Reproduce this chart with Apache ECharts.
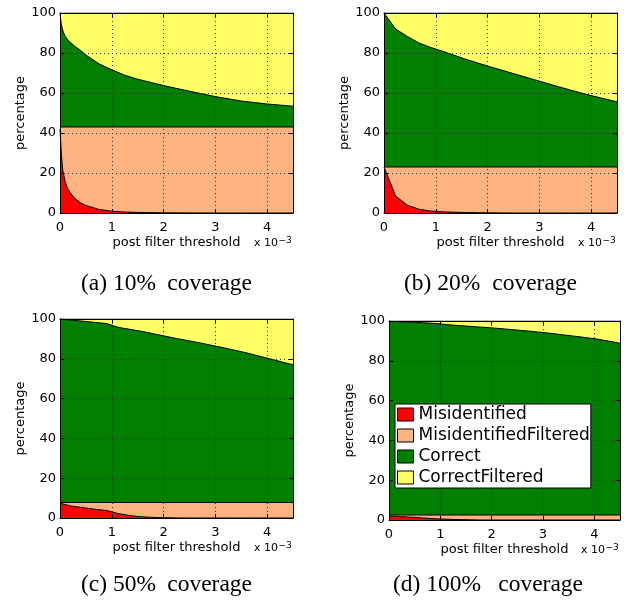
<!DOCTYPE html>
<html><head><meta charset="utf-8">
<script src="https://cdn.jsdelivr.net/npm/echarts@6/dist/echarts.min.js"></script>
<style>html,body{margin:0;padding:0;background:#fff}#c{width:629px;height:604px}</style>
</head><body><div id="c"></div>
<script>
// ---- data (x in units of 1e-3) ----
const seriesNames = ['Misidentified', 'MisidentifiedFiltered', 'Correct', 'CorrectFiltered'];
const xTickLabels = ['0', '1', '2', '3', '4'];
const yTickLabels = ['0', '20', '40', '60', '80', '100'];
const captionLabels = ['(a) 10%', '(b) 20%', '(c) 50%', '(d) 100%'];

const xA = [0, 0.025, 0.05, 0.1, 0.15, 0.2, 0.3, 0.4, 0.5, 0.75, 1.0, 1.25, 1.5, 2.0, 2.5, 3.0, 3.5, 4.0, 4.5];
const misA      = [42, 30, 22, 15.5, 12, 10, 7, 5, 3.8, 1.8, 0.9, 0.5, 0.3, 0.1, 0.05, 0, 0, 0, 0];
const misFiltA  = [1, 13, 21, 27.5, 31, 33, 36, 38, 39.2, 41.2, 42.1, 42.5, 42.7, 42.9, 42.95, 43, 43, 43, 43];
const correctA  = [57, 51.3, 48.5, 45.3, 43.6, 42.2, 40.1, 38.2, 36.0, 31.6, 28.6, 25.9, 23.9, 20.7, 17.9, 15.2, 13.0, 11.5, 10.4];
const corrFiltA = [0, 5.7, 8.5, 11.7, 13.4, 14.8, 16.9, 18.8, 21.0, 25.4, 28.4, 31.1, 33.1, 36.3, 39.1, 41.8, 44.0, 45.5, 46.6];

const xB = [0, 0.225, 0.45, 0.675, 0.9, 1.125, 1.35, 1.575, 1.8, 2.025, 2.25, 2.475, 2.7, 2.925, 3.15, 3.375, 3.6, 3.825, 4.05, 4.275, 4.5];

const misB      = [23, 8.5, 3.9, 1.9, 1.0, 0.6, 0.4, 0.25, 0.15, 0.1, 0.05, 0, 0, 0, 0, 0, 0, 0, 0, 0, 0];
const misFiltB  = [0, 14.5, 19.1, 21.1, 22.0, 22.4, 22.6, 22.75, 22.85, 22.9, 22.95, 23, 23, 23, 23, 23, 23, 23, 23, 23, 23];
const correctB  = [77, 69.0, 65.3, 62.0, 59.8, 57.9, 55.9, 53.9, 52.1, 50.3, 48.6, 46.9, 45.2, 43.5, 41.8, 40.1, 38.5, 36.9, 35.4, 34.0, 32.6];
const corrFiltB = [0, 8.0, 11.7, 15.0, 17.2, 19.1, 21.1, 23.1, 24.9, 26.7, 28.4, 30.1, 31.8, 33.5, 35.2, 36.9, 38.5, 40.1, 41.6, 43.0, 44.4];

const misC      = [7.4, 6.0, 5.2, 4.4, 3.8, 2.2, 1.2, 0.6, 0.3, 0.15, 0.05, 0, 0, 0, 0, 0, 0, 0, 0, 0, 0];
const misFiltC  = [0.4, 1.8, 2.6, 3.4, 4.0, 5.6, 6.6, 7.2, 7.5, 7.65, 7.75, 7.8, 7.8, 7.8, 7.8, 7.8, 7.8, 7.8, 7.8, 7.8, 7.8];
const correctC  = [92.2, 91.6, 91.1, 90.5, 89.9, 88.0, 87.0, 86.0, 84.8, 83.6, 82.4, 81.3, 80.2, 79.0, 77.8, 76.5, 75.2, 73.7, 72.2, 70.7, 69.2];
const corrFiltC = [0, 0.6, 1.1, 1.7, 2.3, 4.2, 5.2, 6.2, 7.4, 8.6, 9.8, 10.9, 12.0, 13.2, 14.4, 15.7, 17.0, 18.5, 20.0, 21.5, 23.0];

const misD      = [2.0, 1.7, 1.4, 1.0, 0.6, 0.4, 0.2, 0.1, 0, 0, 0, 0, 0, 0, 0, 0, 0, 0, 0, 0, 0];
const misFiltD  = [0.5, 0.8, 1.1, 1.5, 1.9, 2.1, 2.3, 2.4, 2.5, 2.5, 2.5, 2.5, 2.5, 2.5, 2.5, 2.5, 2.5, 2.5, 2.5, 2.5, 2.5];
const correctD  = [97.3, 97.1, 96.9, 96.6, 96.3, 95.7, 95.2, 94.8, 94.4, 94.0, 93.5, 93.0, 92.5, 91.9, 91.3, 90.6, 89.9, 89.2, 88.4, 87.4, 86.3];
const corrFiltD = [0.2, 0.4, 0.6, 0.9, 1.2, 1.8, 2.3, 2.7, 3.1, 3.5, 4.0, 4.5, 5.0, 5.6, 6.2, 6.9, 7.6, 8.3, 9.1, 10.1, 11.2];

// ---- styling / layout ----
const seriesColors = ['#ff0000', '#ffb380', '#007f00', '#ffff66'];
const SANS = 'DejaVu Sans';
const SERIF = 'Liberation Serif';

const panels = [
  { xs: xA, vals: [misA, misFiltA, correctA, corrFiltA], left: 60,  top: 13,  width: 233, height: 200, capL: 81,  capR: 252, capY: 284 },
  { xs: xB, vals: [misB, misFiltB, correctB, corrFiltB], left: 384, top: 13,  width: 233, height: 200, capL: 404, capR: 577, capY: 284 },
  { xs: xB, vals: [misC, misFiltC, correctC, corrFiltC], left: 60,  top: 319, width: 233, height: 199, capL: 81,  capR: 252, capY: 585 },
  { xs: xB, vals: [misD, misFiltD, correctD, corrFiltD], left: 389, top: 321, width: 231, height: 199, capL: 393, capR: 583, capY: 585 }
];

const grids = [], xAxes = [], yAxes = [], series = [], graphics = [];
const axisLineStyle = { color: '#000', width: 1 };
const gridLineStyle = { color: '#333', width: 1, type: [1, 3] };

panels.forEach((p, i) => {
  grids.push({ left: p.left, top: p.top, width: p.width, height: p.height });
  xAxes.push({
    gridIndex: i, type: 'value', min: 0, max: 4.5, interval: 1, position: 'bottom', z: 10,
    axisLine: { show: true, onZero: false, lineStyle: axisLineStyle },
    axisTick: { show: true, inside: true, length: 4, lineStyle: axisLineStyle },
    axisLabel: { show: true, margin: 8, color: '#000', fontFamily: SANS, fontSize: 13, showMaxLabel: false,
      formatter: v => (Number.isInteger(v) && xTickLabels[v] !== undefined) ? xTickLabels[v] : '' },
    splitLine: { show: true, lineStyle: gridLineStyle },
    name: 'post filter threshold', nameLocation: 'middle', nameGap: 23.5,
    nameTextStyle: { color: '#000', fontFamily: SANS, fontSize: 13 }
  });
  xAxes.push({
    gridIndex: i, type: 'value', min: 0, max: 4.5, interval: 1, position: 'top', z: 10,
    axisLine: { show: true, onZero: false, lineStyle: axisLineStyle },
    axisTick: { show: true, inside: true, length: 4, lineStyle: axisLineStyle },
    axisLabel: { show: false }, splitLine: { show: false }
  });
  yAxes.push({
    gridIndex: i, type: 'value', min: 0, max: 100, interval: 20, position: 'left', z: 10,
    axisLine: { show: true, onZero: false, lineStyle: axisLineStyle },
    axisTick: { show: true, inside: true, length: 4, lineStyle: axisLineStyle },
    axisLabel: { show: true, margin: 4, color: '#000', fontFamily: SANS, fontSize: 13,
      formatter: v => yTickLabels[Math.round(v / 20)] || '' },
    splitLine: { show: true, lineStyle: gridLineStyle },
    name: 'percentage', nameLocation: 'middle', nameRotate: 90, nameGap: 33,
    nameTextStyle: { color: '#000', fontFamily: SANS, fontSize: 13 }
  });
  yAxes.push({
    gridIndex: i, type: 'value', min: 0, max: 100, interval: 20, position: 'right', z: 10,
    axisLine: { show: true, onZero: false, lineStyle: axisLineStyle },
    axisTick: { show: true, inside: true, length: 4, lineStyle: axisLineStyle },
    axisLabel: { show: false }, splitLine: { show: false }
  });
  // cumulative tops of each layer (stacked area), drawn top layer first so lower layers paint over it
  const cum = seriesNames.map(() => []);
  p.xs.forEach((x, j) => {
    let s = 0;
    for (let k = 0; k < seriesNames.length; k++) { s += p.vals[k][j]; cum[k].push(s); }
  });
  for (let k = seriesNames.length - 1; k >= 0; k--) {
    series.push({
      name: seriesNames[k], type: 'line', xAxisIndex: 2 * i, yAxisIndex: 2 * i,
      symbol: 'none', silent: true, z: 2 + (seriesNames.length - 1 - k) * 0.01,
      data: p.xs.map((x, j) => [x, Math.min(100, cum[k][j])]),
      lineStyle: { color: '#000', width: 1 },
      itemStyle: { color: seriesColors[k] },
      areaStyle: { color: seriesColors[k], opacity: 1, origin: 'start' }
    });
  }
  const right = p.left + p.width, bottom = p.top + p.height;
  graphics.push({ type: 'text', x: right - 15, y: bottom + 29.7, z: 20,
    style: { text: 'x 10', font: '11px "' + SANS + '"', fill: '#000', align: 'right', verticalAlign: 'middle', textAlign: 'right', textVerticalAlign: 'middle' } });
  graphics.push({ type: 'text', x: right - 14.5, y: bottom + 27.5, z: 20,
    style: { text: '\u22123', font: '9px "' + SANS + '"', fill: '#000', align: 'left', verticalAlign: 'middle', textAlign: 'left', textVerticalAlign: 'middle' } });
  graphics.push({ type: 'text', x: p.capL, y: p.capY, z: 20,
    style: { text: captionLabels[i], font: '23.5px "' + SERIF + '"', fill: '#000', align: 'left', verticalAlign: 'middle', textAlign: 'left', textVerticalAlign: 'middle' } });
  graphics.push({ type: 'text', x: p.capR, y: p.capY, z: 20,
    style: { text: 'coverage', font: '23.5px "' + SERIF + '"', fill: '#000', align: 'right', verticalAlign: 'middle', textAlign: 'right', textVerticalAlign: 'middle' } });
});

const chart = echarts.init(document.getElementById('c'), null, { renderer: 'canvas' });
chart.setOption({
  animation: false,
  backgroundColor: '#fff',
  grid: grids, xAxis: xAxes, yAxis: yAxes, series: series,
  legend: {
    data: seriesNames, orient: 'vertical', left: 395, top: 404,
    padding: [2, 1, 2, 2], itemGap: 4, itemWidth: 16, itemHeight: 13, icon: 'rect',
    backgroundColor: '#fff', borderColor: '#000', borderWidth: 1, borderRadius: 0,
    selectedMode: false, z: 20,
    itemStyle: { borderColor: '#000', borderWidth: 1 },
    textStyle: { color: '#000', fontFamily: SANS, fontSize: 17 }
  },
  graphic: { elements: graphics }
});
</script></body></html>
